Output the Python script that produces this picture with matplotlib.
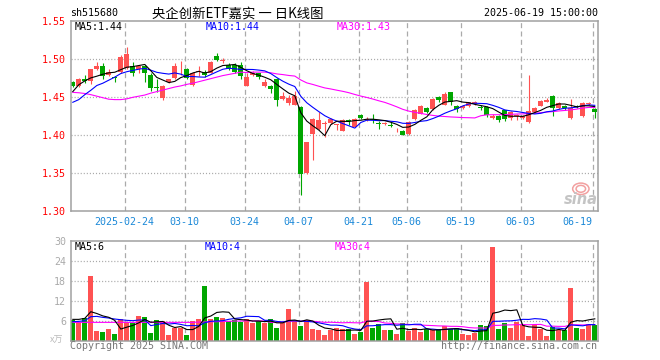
import numpy as np
import pandas as pd
import matplotlib
matplotlib.use('Agg')
import matplotlib.pyplot as plt
from matplotlib.patches import Ellipse

plt.rcParams['lines.scale_dashes'] = False

# ---------------- data ----------------
opens = [1.470, 1.464, 1.474, 1.471, 1.486, 1.490, 1.479, 1.476, 1.483, 1.488,
         1.490, 1.486, 1.491, 1.479, 1.4625, 1.448, 1.469, 1.475, 1.486, 1.486,
         1.466, 1.483, 1.483, 1.482, 1.504, 1.497, 1.492, 1.492, 1.492, 1.465,
         1.4785, 1.481, 1.465, 1.465, 1.474, 1.4474, 1.442, 1.440, 1.4368, 1.350,
         1.402, 1.408, 1.414, 1.416, 1.413, 1.4057, 1.420, 1.4105, 1.426, 1.420,
         1.421, 1.416, 1.4145, 1.413, 1.406, 1.405, 1.402, 1.421, 1.428, 1.4355,
         1.434, 1.4496, 1.440, 1.457, 1.4386, 1.4351, 1.4377, 1.4412, 1.436, 1.4364,
         1.4224, 1.4254, 1.4325, 1.4219, 1.4246, 1.4219, 1.4171, 1.4303, 1.4386, 1.4439,
         1.4518, 1.4351, 1.4386, 1.4224, 1.438, 1.4246, 1.4404, 1.4342]
highs = [1.471, 1.475, 1.479, 1.487, 1.496, 1.494, 1.486, 1.477, 1.505, 1.516,
         1.496, 1.491, 1.492, 1.482, 1.474, 1.466, 1.474, 1.494, 1.4965, 1.488,
         1.483, 1.491, 1.485, 1.497, 1.507, 1.501, 1.494, 1.494, 1.496, 1.481,
         1.484, 1.482, 1.474, 1.466, 1.475, 1.456, 1.452, 1.4575, 1.438, 1.391,
         1.422, 1.430, 1.418, 1.422, 1.415, 1.421, 1.421, 1.422, 1.428, 1.4237,
         1.427, 1.419, 1.417, 1.417, 1.409, 1.406, 1.418, 1.434, 1.439, 1.437,
         1.448, 1.451, 1.4566, 1.457, 1.439, 1.439, 1.444, 1.445, 1.439, 1.438,
         1.427, 1.426, 1.433, 1.431, 1.428, 1.426, 1.4785, 1.437, 1.446, 1.448,
         1.452, 1.443, 1.439, 1.4474, 1.439, 1.443, 1.444, 1.435]
lows = [1.463, 1.463, 1.468, 1.467, 1.485, 1.474, 1.477, 1.469, 1.482, 1.486,
        1.477, 1.482, 1.469, 1.458, 1.456, 1.446, 1.468, 1.473, 1.479, 1.473,
        1.464, 1.477, 1.476, 1.481, 1.497, 1.495, 1.485, 1.481, 1.474, 1.464,
        1.477, 1.473, 1.463, 1.455, 1.438, 1.4456, 1.4395, 1.4395, 1.3215, 1.349,
        1.3675, 1.407, 1.398, 1.415, 1.407, 1.405, 1.4136, 1.410, 1.421, 1.4184,
        1.416, 1.408, 1.413, 1.411, 1.4044, 1.400, 1.400, 1.420, 1.427, 1.429,
        1.433, 1.444, 1.439, 1.440, 1.4303, 1.434, 1.437, 1.440, 1.433, 1.4237,
        1.421, 1.4167, 1.418, 1.420, 1.4193, 1.421, 1.416, 1.429, 1.438, 1.443,
        1.4254, 1.434, 1.4325, 1.421, 1.436, 1.424, 1.439, 1.422]
closes = [1.465, 1.474, 1.471, 1.486, 1.490, 1.478, 1.483, 1.475, 1.503, 1.506,
          1.482, 1.490, 1.482, 1.462, 1.462, 1.465, 1.473, 1.490, 1.487, 1.475,
          1.482, 1.484, 1.479, 1.496, 1.498, 1.499, 1.487, 1.483, 1.477, 1.476,
          1.481, 1.476, 1.469, 1.4605, 1.4456, 1.4518, 1.448, 1.4518, 1.349, 1.391,
          1.421, 1.420, 1.415, 1.421, 1.414, 1.420, 1.419, 1.421, 1.423, 1.421,
          1.420, 1.415, 1.416, 1.412, 1.407, 1.4004, 1.4175, 1.433, 1.4386, 1.430,
          1.447, 1.4465, 1.4544, 1.443, 1.4346, 1.4377, 1.443, 1.443, 1.4352, 1.4268,
          1.4254, 1.4202, 1.4211, 1.4298, 1.4268, 1.4246, 1.4311, 1.4355, 1.4443, 1.4465,
          1.4355, 1.4421, 1.4351, 1.4355, 1.437, 1.4421, 1.4421, 1.4298]
volumes = [6.2, 5.6, 6.7, 19.4, 2.9, 2.6, 3.5, 2.0, 6.5, 5.7,
           5.2, 7.4, 7.1, 2.3, 6.2, 5.9, 1.7, 3.7, 3.7, 1.7,
           5.9, 6.5, 16.4, 6.5, 7.1, 6.8, 5.9, 6.2, 5.6, 6.5,
           5.3, 5.9, 5.3, 6.5, 3.8, 5.3, 9.5, 5.9, 4.4, 6.2,
           3.5, 3.2, 1.7, 3.2, 3.8, 3.5, 3.5, 2.0, 2.6, 17.6,
           3.8, 5.0, 3.2, 3.2, 2.0, 5.3, 2.9, 3.8, 2.6, 3.5,
           3.2, 3.2, 4.4, 3.5, 3.8, 2.0, 1.7, 2.3, 4.7, 4.4,
           28.1, 3.5, 5.3, 3.8, 5.6, 4.7, 1.4, 4.7, 3.5, 1.4,
           4.1, 3.2, 3.2, 15.8, 3.8, 3.5, 5.0, 4.7]

# moving-average values at the left edge (window not yet full inside the visible range)
ma5_head = [1.457, 1.466, 1.471, 1.475]
ma10_head = [1.443, 1.4465, 1.453, 1.4587, 1.465, 1.468, 1.472, 1.476, 1.4807]
ma30_head = [1.456, 1.4555, 1.4545, 1.453, 1.451, 1.449, 1.447, 1.4465, 1.4465, 1.4475,
             1.4495, 1.451, 1.4525, 1.455, 1.457, 1.459, 1.461, 1.463, 1.4645, 1.4665,
             1.468, 1.470, 1.472, 1.474, 1.476, 1.478, 1.4795, 1.481, 1.4825]
vma5_head = [6.4, 6.4, 6.7, 8.7]
vma10_head = [5.7, 5.8, 6.0, 7.2, 7.3, 7.0, 6.8, 6.5, 6.3]
vma30_head = [5.5, 5.5, 5.5, 5.5, 5.5, 5.5, 5.5, 5.5, 5.5, 5.5,
              5.5, 5.5, 5.5, 5.5, 5.5, 5.5, 5.5, 5.5, 5.5, 5.5,
              5.5, 5.6, 5.6, 5.7, 5.7, 5.8, 5.8, 5.9, 5.9]

grid_idx = [9, 19, 29, 38, 48, 56, 65, 75, 87]
grid_labels = ['2025-02-24', '03-10', '03-24', '04-07', '04-21', '05-06', '05-19', '06-03', '06-19']
price_ticks = [1.55, 1.50, 1.45, 1.40, 1.35, 1.30]
vol_ticks = [30, 24, 18, 12, 6]

code = 'sh515680'
title = '央企创新ETF嘉实 一 日K线图'
stamp = '2025-06-19 15:00:00'
price_ma_labels = ['MA5:1.44', 'MA10:1.44', 'MA30:1.43']
vol_ma_labels = ['MA5:6', 'MA10:4', 'MA30:4']

# ---------------- style ----------------
W, H = 660, 360
RED = '#ff5252'
GREEN = '#00a600'
GRID = '#aaaaaa'
BORDER = '#a0a0a0'
XLAB = '#1a88d8'
MONO = 'DejaVu Sans Mono'
CJK = ['Noto Sans CJK SC', 'DejaVu Sans']
FS = 7.2

fig = plt.figure(figsize=(6.6, 3.6), dpi=100)
fig.patch.set_facecolor('white')


def fx(x):
    return x / W


def fy(y):
    return 1 - y / H


L, R = 70.7, 597.7
PT, PB = 20.7, 211.3
VT, VB = 240.7, 340.7
X0, DX = 72.8, 6.0

ax = fig.add_axes([fx(L), fy(PB), (R - L) / W, (PB - PT) / H])
axv = fig.add_axes([fx(L), fy(VB), (R - L) / W, (VB - VT) / H])

n = len(closes)
idx = np.arange(n)
o = np.array(opens); h = np.array(highs); lo = np.array(lows); c = np.array(closes)
v = np.array(volumes)
up = c >= o
cols = np.where(up, RED, GREEN)


def moving(vals, w, head):
    s = pd.Series(vals).rolling(w).mean().to_numpy()
    s[:w - 1] = head
    return s


xlim = ((L - X0) / DX, (R - X0) / DX)
gx = [k - 0.38 for k in grid_idx]

for a in (ax, axv):
    a.set_xlim(*xlim)
    for s in a.spines.values():
        s.set_color(BORDER)
        s.set_linewidth(1.1)
    a.tick_params(length=0)
    a.set_xticks([])
    for x in gx:
        a.axvline(x, color=GRID, lw=0.9, ls=(0, (3.6, 2.4)), zorder=0.5)

# ---- price panel ----
ax.set_ylim(1.30, 1.55)
for p in price_ticks[1:-1]:
    ax.axhline(p, color=GRID, lw=0.9, ls=(0, (0.8, 1.4)), zorder=0.5)
ax.set_yticks(price_ticks)
ax.set_yticklabels([f'{p:.2f}' for p in price_ticks], color='#ff0000',
                   fontfamily=MONO, fontsize=FS)
ax.tick_params(axis='y', pad=3.2)

# sina watermark (behind the data)
fig.text(fx(581), fy(199.5), 'sina', ha='center', va='center', color='#c4c4c4',
         fontsize=10.5, fontweight='bold', fontstyle='italic', family='DejaVu Sans',
         zorder=0)
for wd, ht in [(0.031, 0.060), (0.018, 0.036)]:
    ax.add_patch(Ellipse((0.968, 0.118), wd, ht, transform=ax.transAxes,
                         facecolor='none', edgecolor='#f2a0a0', lw=1.1, zorder=1))

ax.vlines(idx, lo, h, colors=cols, lw=0.8, zorder=2)
body_lo = np.minimum(o, c)
body_h = np.maximum(np.abs(c - o), 0.0012)
ax.bar(idx, body_h, bottom=body_lo, width=5 / 6, color=cols, linewidth=0, zorder=2)

ax.plot(idx, moving(c, 30, ma30_head), color='#ff00ff', lw=0.8, zorder=3)
ax.plot(idx, moving(c, 10, ma10_head), color='#0000ff', lw=0.8, zorder=3)
ax.plot(idx, moving(c, 5, ma5_head), color='#000000', lw=0.8, zorder=3)

for k, lab in zip(gx, grid_labels):
    ha = 'right' if lab == grid_labels[-1] else 'center'
    ax.text(k, -0.054, lab, transform=ax.get_xaxis_transform(), ha=ha,
            va='center', color=XLAB, fontfamily=MONO, fontsize=FS)

# ---- volume panel ----
axv.set_ylim(0, 30)
for t in vol_ticks[1:]:
    axv.axhline(t, color=GRID, lw=0.9, ls=(0, (0.8, 1.4)), zorder=0.5)
axv.set_yticks(vol_ticks)
axv.set_yticklabels([str(t) for t in vol_ticks], color='#aaaaaa',
                    fontfamily=MONO, fontsize=FS)
axv.tick_params(axis='y', pad=3.2)
axv.bar(idx, v, width=5 / 6, color=cols, linewidth=0, zorder=2)
axv.plot(idx, moving(v, 30, vma30_head), color='#ff00ff', lw=0.8, zorder=3)
axv.plot(idx, moving(v, 10, vma10_head), color='#0000ff', lw=0.8, zorder=3)
axv.plot(idx, moving(v, 5, vma5_head), color='#000000', lw=0.8, zorder=3)

# ---- texts ----
fig.text(fx(70), fy(13.5), code, ha='left', va='center', fontfamily=MONO, fontsize=FS)
fig.text(fx(238), fy(13.5), title, ha='center', va='center', family=CJK, fontsize=9.6)
fig.text(fx(598), fy(13.5), stamp, ha='right', va='center', fontfamily=MONO, fontsize=FS)

for xp, lab, col in zip([75, 206, 337], price_ma_labels, ['#000000', '#0000ff', '#ff00ff']):
    fig.text(fx(xp), fy(27.5), lab, ha='left', va='center', color=col,
             fontfamily=MONO, fontsize=FS)
for xp, lab, col in zip([74.7, 204.7, 334.7], vol_ma_labels, ['#000000', '#0000ff', '#ff00ff']):
    fig.text(fx(xp), fy(246.5), lab, ha='left', va='center', color=col,
             fontfamily=MONO, fontsize=FS)

fig.text(fx(63), fy(340.5), 'x万', ha='right', va='center', color='#bbbbbb',
         family=CJK, fontsize=6.5)
fig.text(fx(70), fy(346), 'Copyright 2025 SINA.COM', ha='left', va='center',
         color='#777777', fontfamily=MONO, fontsize=FS)
fig.text(fx(597), fy(346), 'http://finance.sina.com.cn', ha='right', va='center',
         color='#777777', fontfamily=MONO, fontsize=FS)

fig.savefig('out.png', dpi=100, facecolor='white')
